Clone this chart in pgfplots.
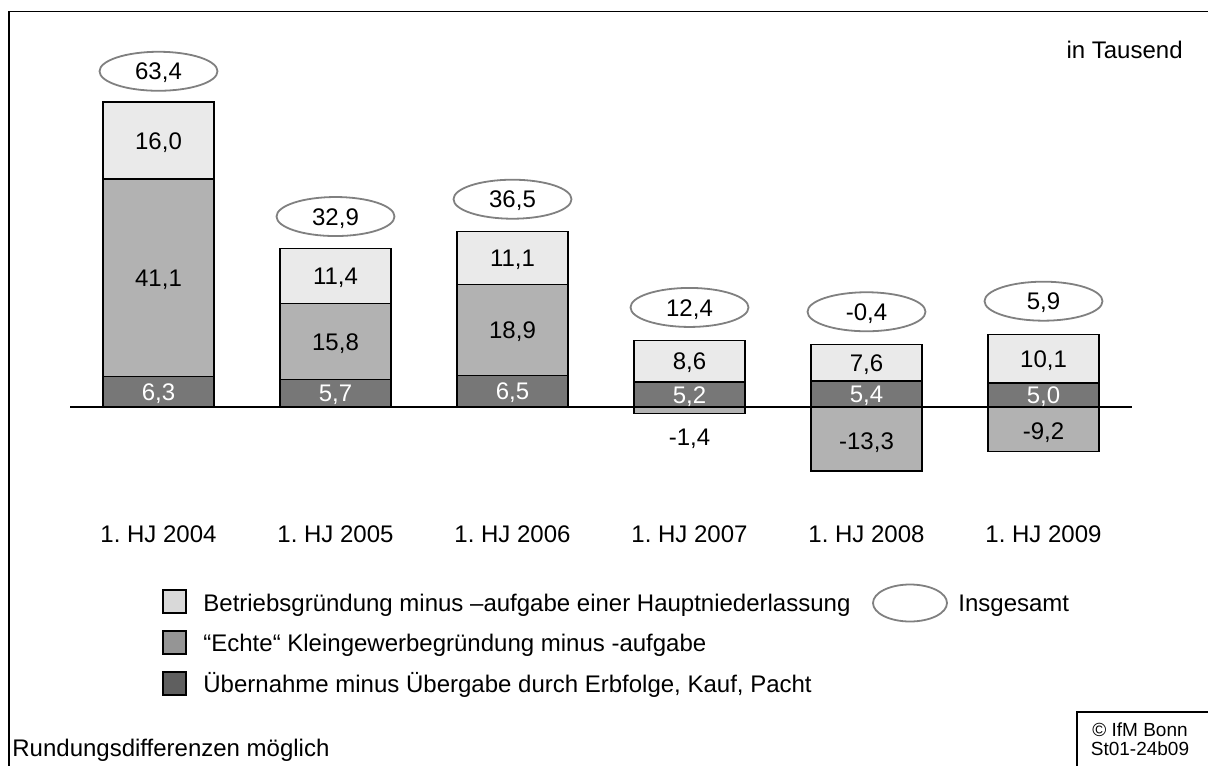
\documentclass[border=0pt]{standalone}
\usepackage{fontspec}
\setmainfont{Liberation Sans}
\usepackage{pgfplots}
\pgfplotsset{compat=1.18}
\usetikzlibrary{shapes.geometric}
\definecolor{barL}{HTML}{EAEAEA}
\definecolor{barM}{HTML}{B2B2B2}
\definecolor{barD}{HTML}{777777}
\definecolor{legL}{HTML}{D9D9D9}
\definecolor{legM}{HTML}{959595}
\definecolor{legD}{HTML}{5F5F5F}
\definecolor{ellgray}{HTML}{808080}
\begin{document}
\frenchspacing
\fontsize{12}{14}\selectfont
\begin{tikzpicture}
\useasboundingbox (0,0) rectangle (604pt,-382.5pt);
\clip (0,0) rectangle (604pt,-382.5pt);
\begin{axis}[
  anchor=origin, at={(79.25pt,-203.5pt)},
  x=88.5pt, y=2.405pt,
  xmin=-0.5, xmax=5.5, ymin=-20, ymax=80,
  hide axis, clip=false,
  mybar/.style={ybar, bar width=55.5pt, bar shift=0pt, draw=black, line width=0.6pt},
]
% cumulative tops of stacked segments (drawn overlapping)
\addplot[mybar, fill=barL] coordinates {(0,63.4) (1,32.9) (2,36.5) (3,13.8) (4,13.0) (5,15.1)};
\addplot[mybar, fill=barM] coordinates {(0,47.4) (1,21.5) (2,25.4) (3,-1.4) (4,-13.3) (5,-9.2)};
\addplot[mybar, fill=barD] coordinates {(0,6.3) (1,5.7) (2,6.5) (3,5.2) (4,5.4) (5,5.0)};
\draw[black, line width=0.6pt] (axis cs:-0.5,0) -- (axis cs:5.5,0);
% totals (Insgesamt)
\addplot[only marks, mark=*, mark size=0pt, mark options={draw=none,fill=none},
  point meta=explicit symbolic, nodes near coords,
  nodes near coords style={ellipse, draw=ellgray, fill=white, line width=0.9pt,
    minimum width=59pt, minimum height=19.5pt, inner sep=0pt, anchor=center, text=black,
    text height=8.6pt, text depth=0pt}]
  coordinates {(0,69.8) [63,4] (1,39.6) [32,9] (2,43.2) [36,5] (3,20.7) [12,4] (4,19.8) [-0,4] (5,22.0) [5,9]};
% segment labels
\begin{scope}[every node/.style={inner sep=0pt, anchor=center, text height=8.6pt, text depth=0pt}]
\node[text=white] at (axis cs:0,3.15) {6,3};
\node at (axis cs:0,26.85) {41,1};
\node at (axis cs:0,55.4) {16,0};
\node[text=white] at (axis cs:1,2.85) {5,7};
\node at (axis cs:1,13.6) {15,8};
\node at (axis cs:1,27.2) {11,4};
\node[text=white] at (axis cs:2,3.25) {6,5};
\node at (axis cs:2,15.95) {18,9};
\node at (axis cs:2,30.95) {11,1};
\node[text=white] at (axis cs:3,2.6) {5,2};
\node at (axis cs:3,9.5) {8,6};
\node at (axis cs:3,-6.3) {-1,4};
\node[text=white] at (axis cs:4,2.7) {5,4};
\node at (axis cs:4,9.2) {7,6};
\node at (axis cs:4,-7.0) {-13,3};
\node[text=white] at (axis cs:5,2.5) {5,0};
\node at (axis cs:5,10.05) {10,1};
\node at (axis cs:5,-5.0) {-9,2};
\node at (axis cs:0,-26.4) {1. HJ 2004};
\node at (axis cs:1,-26.4) {1. HJ 2005};
\node at (axis cs:2,-26.4) {1. HJ 2006};
\node at (axis cs:3,-26.4) {1. HJ 2007};
\node at (axis cs:4,-26.4) {1. HJ 2008};
\node at (axis cs:5,-26.4) {1. HJ 2009};
\end{scope}
\end{axis}
\begin{scope}[x=0.5pt, y=-0.5pt, every node/.style={inner sep=0pt, text height=8.6pt, text depth=0pt}]
\draw[line width=0.85pt] (9,800) -- (9,11.5) -- (1230,11.5);
\node[anchor=east] at (1183,50) {in Tausend};
\draw[fill=legL, line width=0.6pt] (163,590) rectangle (186,613);
\draw[fill=legM, line width=0.6pt] (163,631) rectangle (186,654);
\draw[fill=legD, line width=0.6pt] (163,672) rectangle (186,695);
\node[anchor=west] at (203,603) {Betriebsgründung minus –aufgabe einer Hauptniederlassung};
\node[anchor=west] at (203,643) {“Echte“ Kleingewerbegründung minus -aufgabe};
\node[anchor=west] at (203,684) {Übernahme minus Übergabe durch Erbfolge, Kauf, Pacht};
\draw[ellgray, line width=0.9pt] (910,603) ellipse (18.5pt and 9.25pt);
\node[anchor=west] at (958,603) {Insgesamt};
\node[anchor=west] at (12,748) {Rundungsdifferenzen möglich};
\draw[line width=0.6pt] (1077,800) -- (1077,712) -- (1230,712);
\node[font=\fontsize{9.5}{11}\selectfont, text height=6.8pt] at (1140,730) {© IfM Bonn};
\node[font=\fontsize{9.5}{11}\selectfont, text height=6.8pt] at (1140,749) {St01-24b09};
\end{scope}
\end{tikzpicture}
\end{document}
